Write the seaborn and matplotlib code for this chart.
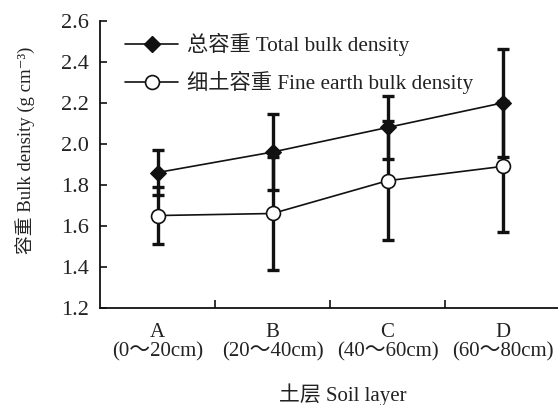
import matplotlib
matplotlib.use("Agg")
import matplotlib.pyplot as plt
import seaborn as sns
import pandas as pd
import numpy as np
from matplotlib.lines import Line2D

layers = ["A", "B", "C", "D"]
depths = ["(0～20cm)", "(20～40cm)", "(40～60cm)", "(60～80cm)"]
total = [1.86, 1.96, 2.08, 2.20]
total_err = [0.11, 0.185, 0.155, 0.262]
fine = [1.65, 1.66, 1.82, 1.89]
fine_err = [0.14, 0.275, 0.29, 0.32]
series_names = ["总容重 Total bulk density", "细土容重 Fine earth bulk density"]
yticks = [1.2, 1.4, 1.6, 1.8, 2.0, 2.2, 2.4, 2.6]

sns.set_theme(style="ticks")
fam = ["Liberation Serif", "Noto Sans CJK SC", "DejaVu Sans"]
plt.rcParams["font.family"] = fam
txt = "#222222"
ink = "#111111"

df = pd.DataFrame({
    "pos": list(range(len(layers))) * 2,
    "value": total + fine,
    "err": total_err + fine_err,
    "series": [series_names[0]] * 4 + [series_names[1]] * 4,
})

fig = plt.figure(figsize=(5.58, 4.05), dpi=100)
ax = fig.add_axes([100 / 558, 1 - 307.7 / 405, 460 / 558, (307.7 - 21) / 405])

for name, z in zip(series_names, [3, 2]):
    sub = df[df.series == name]
    ax.errorbar(sub.pos, sub.value, yerr=sub.err, fmt="none", ecolor=ink,
                elinewidth=2.4, capsize=4.2, capthick=2.4, zorder=z)

sns.lineplot(data=df, x="pos", y="value", hue="series", style="series",
             markers={series_names[0]: "D", series_names[1]: "o"},
             dashes=False, palette={series_names[0]: ink, series_names[1]: ink},
             linewidth=1.2, ax=ax, legend=False, zorder=4)
for ln in ax.get_lines():
    if ln.get_marker() == "D":
        ln.set_markersize(8)
        ln.set_markerfacecolor(ink)
        ln.set_markeredgecolor(ink)
    elif ln.get_marker() == "o":
        ln.set_markersize(10)
        ln.set_markerfacecolor("white")
        ln.set_markeredgecolor(ink)
        ln.set_markeredgewidth(1.2)

ax.set_xlim(-0.5, 3.5)
ax.set_ylim(1.2, 2.6)
ax.set_yticks(yticks)
ax.set_yticklabels([f"{v:.1f}" for v in yticks], fontsize=16, color=txt)
ax.set_xticks([0.5, 1.5, 2.5])
ax.set_xticklabels([])
ax.set_xticks(range(4), minor=True)
ax.set_xticklabels([f"{a}\n{d}" for a, d in zip(layers, depths)], minor=True,
                   fontsize=15, color=txt, linespacing=1.0)
ax.tick_params(axis="x", which="minor", length=0, pad=11)
ax.tick_params(axis="x", which="major", direction="in", length=6, width=1.2, color=ink)
ax.tick_params(axis="y", direction="in", length=5, width=1.2, color=ink, pad=8)
for s in ["top", "right"]:
    ax.spines[s].set_visible(False)
for s in ["left", "bottom"]:
    ax.spines[s].set_linewidth(1.3)
    ax.spines[s].set_color(ink)
ax.set_xlabel("")
ax.set_ylabel("")

fig.text(343 / 558, 1 - 395 / 405, "土层 Soil layer", ha="center", va="center",
         fontsize=15, color=txt)
fig.text(25 / 558, 1 - 150 / 405, "容重 Bulk density (g cm⁻³)", ha="center", va="center",
         rotation=90, fontsize=13.5, color=txt)

handles = [
    Line2D([], [], color=ink, lw=1.2, marker="D", markersize=8, markerfacecolor=ink),
    Line2D([], [], color=ink, lw=1.2, marker="o", markersize=10,
           markerfacecolor="white", markeredgecolor=ink, markeredgewidth=1.2),
]
leg = ax.legend(handles, series_names, loc="upper left", bbox_to_anchor=(25 / 460, 0.958),
                frameon=False, fontsize=15.3, handlelength=2.5, handletextpad=0.4,
                labelspacing=0.7, borderaxespad=0, borderpad=0)
for t in leg.get_texts():
    t.set_color(txt)

fig.savefig("out.png", dpi=100)
